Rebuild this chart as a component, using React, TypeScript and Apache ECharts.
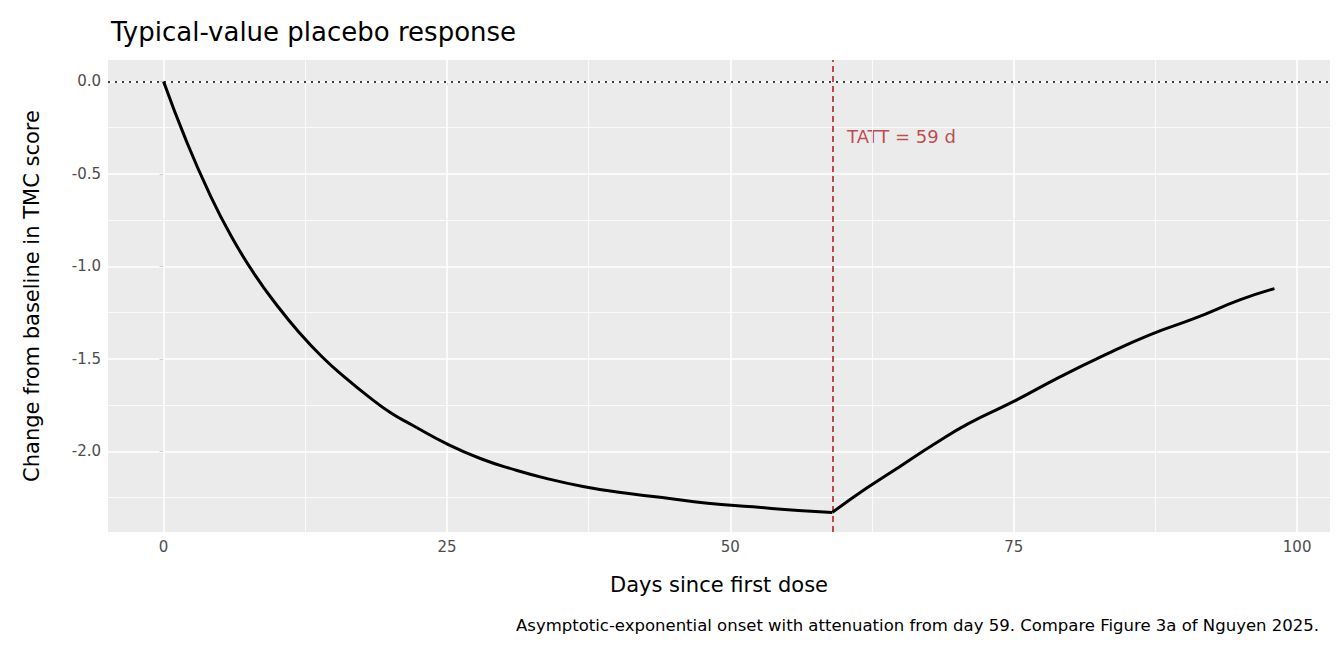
import React, { useEffect, useRef } from "react";
import * as echarts from "echarts";

const days = [0,2,4,6,8,10,12,14,16,18,20,22,25,28,31,34,37,40,44,48,52,56,59,62,65,68,71,75,79,83,87,91,95,98];
const change = [0,-0.32,-0.6,-0.84,-1.04,-1.21,-1.36,-1.49,-1.6,-1.7,-1.79,-1.86,-1.96,-2.04,-2.1,-2.15,-2.19,-2.22,-2.25,-2.28,-2.3,-2.32,-2.33,-2.2,-2.08,-1.96,-1.85,-1.73,-1.6,-1.48,-1.37,-1.28,-1.18,-1.12];
const xMajor = [0,25,50,75,100];
const xMinor = [12.5,37.5,62.5,87.5];
const yMajor = [-2,-1.5,-1,-0.5,0];
const yMinor = [-2.25,-1.75,-1.25,-0.75,-0.25];
const tatt = 59;

export default function App() {
  const ref = useRef<HTMLDivElement>(null);
  useEffect(() => {
    const chart = echarts.init(ref.current!, null, { renderer: "svg" });
    const ml = (arr: number[], key: string, w: number) =>
      arr.map((v) => ({ [key]: v, lineStyle: { color: "#fff", width: w, type: "solid" } }));
    const font = "DejaVu Sans";
    const pts = days.map((d, i) => [d, change[i]]);
    const split = days.indexOf(tatt);
    const curve = (data: number[][]) => ({
      type: "line", data, showSymbol: false, smooth: true, silent: true,
      lineStyle: { color: "#000", width: 3 }, z: 5,
    });
    chart.setOption({
      animation: false,
      textStyle: { fontFamily: font },
      title: [
        { text: "Typical-value placebo response", left: 98, top: 6, textStyle: { fontSize: 26, fontWeight: "normal", color: "#000", fontFamily: font } },
        { text: "Asymptotic-exponential onset with attenuation from day 59. Compare Figure 3a of Nguyen 2025.", right: 12, top: 604, textStyle: { fontSize: 16.5, fontWeight: "normal", color: "#000", fontFamily: font } },
      ],
      grid: { left: 100, right: 6, top: 52, bottom: 112, backgroundColor: "#EBEBEB", show: true, borderWidth: 0 },
      xAxis: {
        type: "value", min: -4.9, max: 102.9,
        name: "Days since first dose", nameLocation: "middle", nameGap: 42,
        nameTextStyle: { fontSize: 21, color: "#000" },
        axisLine: { show: false }, splitLine: { show: false },
        axisTick: { show: true, customValues: xMajor, length: 4, lineStyle: { color: "#333" } },
        axisLabel: { customValues: xMajor, color: "#4D4D4D", fontSize: 15, margin: 7 },
      },
      yAxis: {
        type: "value", min: -2.436, max: 0.116,
        name: "Change from baseline in TMC score", nameLocation: "middle", nameGap: 66,
        nameTextStyle: { fontSize: 21, color: "#000" },
        axisLine: { show: false }, splitLine: { show: false },
        axisTick: { show: true, customValues: yMajor, length: 4, lineStyle: { color: "#333" } },
        axisLabel: { customValues: yMajor, color: "#4D4D4D", fontSize: 15, margin: 7, formatter: (v: number) => v.toFixed(1) },
      },
      series: [
        {
          type: "line", data: [], silent: true,
          markLine: {
            silent: true, symbol: "none", label: { show: false },
            data: [...ml(xMinor, "xAxis", 0.8), ...ml(yMinor, "yAxis", 0.8), ...ml(xMajor, "xAxis", 1.6), ...ml(yMajor, "yAxis", 1.6)],
          },
        },
        {
          ...curve(pts.slice(0, split + 1)),
          markLine: {
            silent: true, symbol: "none", label: { show: false },
            data: [
              { yAxis: 0, lineStyle: { color: "#000", type: [2, 5], width: 1.6 } },
              { xAxis: tatt, lineStyle: { color: "#B22222", type: [6, 4], width: 1.6 } },
            ],
          },
        },
        curve(pts.slice(split)),
        {
          type: "scatter", data: [[tatt + 1.3, -0.3]], symbolSize: 0, silent: true,
          label: { show: true, formatter: "TATT = 59 d", position: "right", distance: 0, color: "#B22222", fontSize: 18 },
        },
      ],
    });
    return () => chart.dispose();
  }, []);
  return <div ref={ref} style={{ width: 1328, height: 636 }} />;
}
